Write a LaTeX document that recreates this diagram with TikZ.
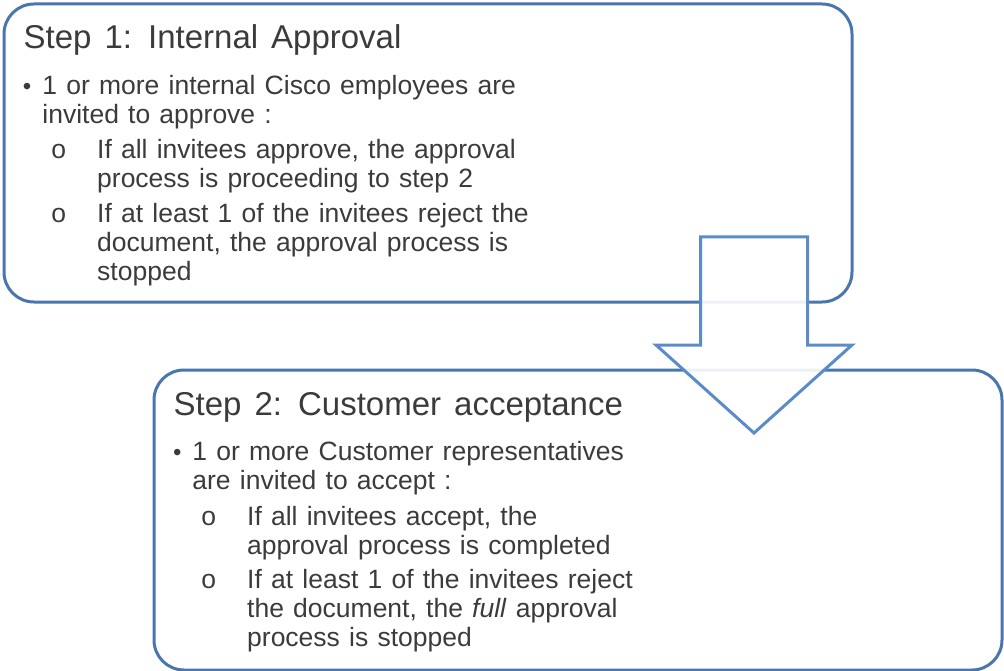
\documentclass[tikz,border=0pt]{standalone}
\usepackage{fontspec}
\setmainfont{Liberation Sans}
\usetikzlibrary{calc}
\definecolor{boxline}{HTML}{4A76AE}
\definecolor{arrowline}{HTML}{5B8CC8}
\definecolor{bodytext}{HTML}{3B3B3B}
\newcommand\steptitlefont{\fontsize{33}{38}\selectfont\spaceskip 13pt\relax}
\newcommand\bodyfont{\fontsize{26.5}{29}\selectfont\spaceskip 9.2pt\relax}
\newcommand\bulletmark{\llap{{\fontsize{24}{24}\selectfont\textbullet}\hspace{11pt}}}
\newcommand\circmark{\llap{o\hspace{31pt}}}

\begin{document}
\begin{tikzpicture}[
    x=1pt, y=-1pt,
    every node/.style={text=bodytext, inner sep=0pt},
    stepbox/.style={
      draw=boxline, line width=3pt,
      rounded corners=30pt,
      anchor=north west,
      minimum width=848pt
    },
    steptitle/.style={anchor=base west, font=\steptitlefont},
    para/.style={anchor=base west, align=left, font=\bodyfont}
  ]
  \useasboundingbox (0,0) rectangle (1004,671);

  % the two steps
  \node[stepbox, minimum height=298pt] (step1) at (2.5,2.5) {};
  \node[stepbox, minimum height=300pt] (step2) at (152.5,368.5) {};

  % step 1 text (para nodes sit on the baseline of their last line)
  \node[steptitle] (title1) at ($(step1.north west)+(21,46)$) {Step 1: Internal Approval};
  \node[para] (bul1) at ($(step1.north west)+(39.7,121)$) {%
    \bulletmark 1 or more internal Cisco employees are\\
    invited to approve :};
  \node[para] (sub1a) at ($(step1.north west)+(94.5,185.5)$) {%
    \circmark If all invitees approve, the approval\\
    process is proceeding to step 2};
  \node[para] (sub1b) at ($(step1.north west)+(94.5,277.5)$) {%
    \circmark If at least 1 of the invitees reject the\\
    document, the approval process is\\
    stopped};

  % step 2 text
  \node[steptitle] (title2) at ($(step2.north west)+(21,47)$) {Step 2: Customer acceptance};
  \node[para] (bul2) at ($(step2.north west)+(39.7,121)$) {%
    \bulletmark 1 or more Customer representatives\\
    are invited to accept :};
  \node[para] (sub2a) at ($(step2.north west)+(94.5,185.5)$) {%
    \circmark If all invitees accept, the\\
    approval process is completed};
  \node[para] (sub2b) at ($(step2.north west)+(94.5,277.5)$) {%
    \circmark If at least 1 of the invitees reject\\
    the document, the \textit{full} approval\\
    process is stopped};

  % block arrow from step 1 down to step 2
  \draw[draw=arrowline, line width=3pt, fill=white, fill opacity=0.9]
    (700.5,237) -- (807.5,237) -- (807.5,345) -- (852,345)
    -- (754,433) -- (656,345) -- (700.5,345) -- cycle;
\end{tikzpicture}
\end{document}
